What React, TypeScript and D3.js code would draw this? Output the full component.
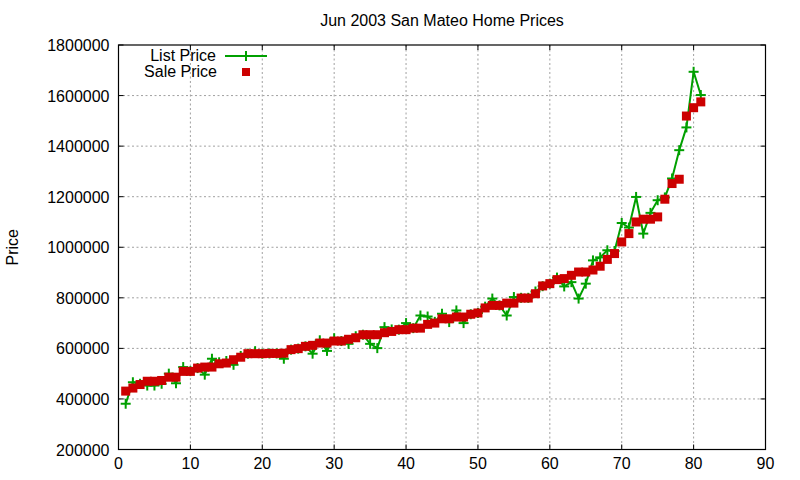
import React, { useEffect, useRef } from 'react';
import * as d3 from 'd3';

// house index (sorted by sale price)
const houseIndex: number[] = Array.from({ length: 81 }, (_, i) => i + 1);

const salePrice: number[] = [
  431000, 443000, 457000, 470000, 470000, 473000, 486000, 486000, 509000, 509000,
  522000, 526000, 526000, 539000, 542000, 555000, 565000, 579000, 579000, 579000,
  580000, 580000, 581000, 595000, 599000, 608000, 612000, 621000, 621000, 629000,
  629000, 636000, 642000, 654000, 654000, 654000, 662000, 667000, 674000, 674000,
  680000, 680000, 695000, 700000, 717000, 717000, 724000, 724000, 735000, 740000,
  760000, 770000, 770000, 779000, 779000, 799000, 799000, 816000, 847000, 856000,
  872000, 876000, 889000, 902000, 902000, 910000, 925000, 952000, 975000, 1021000,
  1054000, 1100000, 1111000, 1111000, 1120000, 1190000, 1252000, 1269000, 1519000, 1552000,
  1575000,
];

const listPrice: number[] = [
  381000, 466000, 460000, 453000, 453000, 460000, 500000, 462000, 526000, 510000,
  522000, 496000, 559000, 545000, 550000, 535000, 570000, 579000, 589000, 579000,
  580000, 580000, 559000, 595000, 599000, 608000, 579000, 632000, 590000, 640000,
  629000, 618000, 648000, 654000, 618000, 601000, 684000, 675000, 674000, 700000,
  680000, 730000, 726000, 705000, 737000, 704000, 750000, 700000, 735000, 740000,
  765000, 797000, 770000, 730000, 803000, 800000, 800000, 825000, 846000, 856000,
  880000, 845000, 862000, 797000, 856000, 948000, 960000, 988000, 985000, 1096000,
  1078000, 1199000, 1054000, 1136000, 1186000, 1197000, 1272000, 1384000, 1474000, 1694000,
  1602000,
];

const xTicks: number[] = [0, 10, 20, 30, 40, 50, 60, 70, 80, 90];
const yTicks: number[] = [200000, 400000, 600000, 800000, 1000000, 1200000, 1400000, 1600000, 1800000];

const GREEN = '#00a000';
const RED = '#cc0000';
const FONT = '"Liberation Sans", Arial, sans-serif';

const App: React.FC = () => {
  const ref = useRef<SVGSVGElement | null>(null);

  useEffect(() => {
    if (!ref.current) return;
    const width = 800;
    const height = 480;
    const left = 118.5, right = 765.5, top = 45, bottom = 449.5;

    const x = d3.scaleLinear().domain([0, 90]).range([left, right]);
    const y = d3.scaleLinear().domain([200000, 1800000]).range([bottom, top]);

    const svg = d3.select(ref.current)
      .attr('width', width)
      .attr('height', height);

    svg.append('rect').attr('width', width).attr('height', height).attr('fill', '#fff');

    // grid
    const grid = svg.append('g').attr('stroke', '#a0a0a0').attr('stroke-width', 1).attr('stroke-dasharray', '2,2.5');
    xTicks.slice(1, -1).forEach(t => {
      grid.append('line').attr('x1', x(t)).attr('x2', x(t)).attr('y1', top).attr('y2', bottom);
    });
    yTicks.slice(1, -1).forEach(t => {
      grid.append('line').attr('x1', left).attr('x2', right).attr('y1', y(t)).attr('y2', y(t));
    });

    // ticks (inward, mirrored)
    const ticks = svg.append('g').attr('stroke', '#000').attr('stroke-width', 1);
    xTicks.forEach(t => {
      ticks.append('line').attr('x1', x(t)).attr('x2', x(t)).attr('y1', bottom).attr('y2', bottom - 5);
      ticks.append('line').attr('x1', x(t)).attr('x2', x(t)).attr('y1', top).attr('y2', top + 5);
    });
    yTicks.forEach(t => {
      ticks.append('line').attr('x1', left).attr('x2', left + 5).attr('y1', y(t)).attr('y2', y(t));
      ticks.append('line').attr('x1', right).attr('x2', right - 5).attr('y1', y(t)).attr('y2', y(t));
    });

    // frame
    svg.append('rect')
      .attr('x', left).attr('y', top)
      .attr('width', right - left).attr('height', bottom - top)
      .attr('fill', 'none').attr('stroke', '#000').attr('stroke-width', 1.2);

    // tick labels
    const labels = svg.append('g').style('font-family', FONT).style('font-size', '16px').attr('fill', '#000');
    xTicks.forEach(t => {
      labels.append('text').attr('x', x(t)).attr('y', bottom + 19).attr('text-anchor', 'middle').text(String(t));
    });
    yTicks.forEach(t => {
      labels.append('text').attr('x', left - 9).attr('y', y(t) + 6).attr('text-anchor', 'end').text(String(t));
    });

    // title & axis label
    svg.append('text')
      .attr('x', (left + right) / 2).attr('y', 26)
      .attr('text-anchor', 'middle')
      .style('font-family', FONT).style('font-size', '16px')
      .text('Jun 2003 San Mateo Home Prices');
    svg.append('text')
      .attr('transform', `translate(18, ${(top + bottom) / 2}) rotate(-90)`)
      .attr('text-anchor', 'middle')
      .style('font-family', FONT).style('font-size', '16px')
      .text('Price');

    // list price line
    const line = d3.line<number>()
      .x((_, i) => x(houseIndex[i]))
      .y(d => y(d));
    svg.append('path')
      .datum(listPrice)
      .attr('d', line)
      .attr('fill', 'none')
      .attr('stroke', GREEN)
      .attr('stroke-width', 2);

    const cross = (g: d3.Selection<SVGGElement, unknown, null, undefined>, cx: number, cy: number) => {
      g.append('line').attr('x1', cx - 5).attr('x2', cx + 5).attr('y1', cy).attr('y2', cy);
      g.append('line').attr('x1', cx).attr('x2', cx).attr('y1', cy - 5).attr('y2', cy + 5);
    };
    const crosses = svg.append('g').attr('stroke', GREEN).attr('stroke-width', 2);
    listPrice.forEach((v, i) => cross(crosses, x(houseIndex[i]), y(v)));

    // sale price squares
    svg.append('g')
      .selectAll('rect')
      .data(salePrice)
      .enter()
      .append('rect')
      .attr('x', (_, i) => x(houseIndex[i]) - 4.5)
      .attr('y', d => y(d) - 4.5)
      .attr('width', 9)
      .attr('height', 9)
      .attr('fill', RED);

    // legend
    const legend = svg.append('g').style('font-family', FONT).style('font-size', '16px');
    legend.append('text').attr('x', 216).attr('y', 61).attr('text-anchor', 'end').text('List Price');
    legend.append('text').attr('x', 217).attr('y', 77).attr('text-anchor', 'end').text('Sale Price');
    legend.append('line').attr('x1', 225).attr('x2', 267).attr('y1', 56).attr('y2', 56)
      .attr('stroke', GREEN).attr('stroke-width', 2);
    const lg = legend.append('g').attr('stroke', GREEN).attr('stroke-width', 2);
    cross(lg, 246, 56);
    legend.append('rect').attr('x', 242).attr('y', 68).attr('width', 8).attr('height', 8).attr('fill', RED);

    return () => {
      d3.select(ref.current).selectAll('*').remove();
    };
  }, []);

  return (
    <div style={{ position: 'absolute', left: 0, top: 0 }}>
      <svg ref={ref} style={{ display: 'block' }}></svg>
    </div>
  );
};

export default App;
